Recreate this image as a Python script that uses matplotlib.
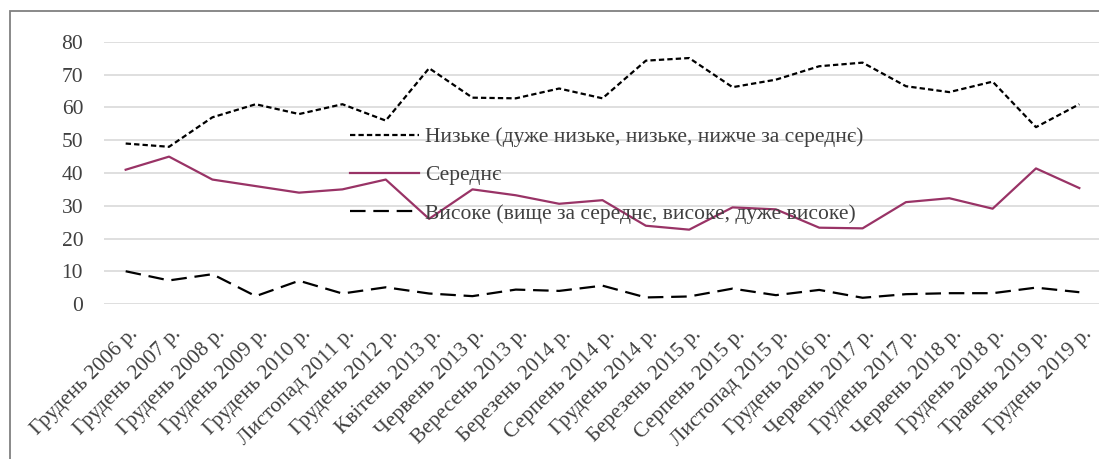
import matplotlib
matplotlib.use('Agg')
import matplotlib.pyplot as plt
import matplotlib.transforms as mtransforms
from matplotlib.patches import Rectangle

# periods of the survey
periods = ['Грудень 2006 р.', 'Грудень 2007 р.', 'Грудень 2008 р.', 'Грудень 2009 р.',
           'Грудень 2010 р.', 'Листопад 2011 р.', 'Грудень 2012 р.', 'Квітень 2013 р.',
           'Червень 2013 р.', 'Вересень 2013 р.', 'Березень 2014 р.', 'Серпень 2014 р.',
           'Грудень 2014 р.', 'Березень 2015 р.', 'Серпень 2015 р.', 'Листопад 2015 р.',
           'Грудень 2016 р.', 'Червень 2017 р.', 'Грудень 2017 р.', 'Червень 2018 р.',
           'Грудень 2018 р.', 'Травень 2019 р.', 'Грудень 2019 р.']

low = [49, 48, 57, 61, 58, 61, 56, 72, 63, 62.8, 65.8, 62.8, 74.3, 75.1, 66.2,
       68.5, 72.6, 73.7, 66.5, 64.7, 67.9, 54, 61]
medium = [41, 45, 38, 36, 34, 35, 38, 26, 35, 33.2, 30.6, 31.7, 23.9, 22.7, 29.5,
          28.9, 23.3, 23.1, 31.1, 32.3, 29.1, 41.4, 35.4]
high = [10, 7.2, 9.1, 2.4, 7.1, 3.2, 5.1, 3.2, 2.4, 4.4, 4, 5.6, 2, 2.3, 4.7,
        2.7, 4.3, 1.9, 3, 3.3, 3.3, 5, 3.6]

labels = ['Низьке (дуже низьке, низьке, нижче за середнє)',
          'Середнє',
          'Високе (вище за середнє, високе, дуже високе)']

plt.rcParams['font.family'] = ['Liberation Serif', 'DejaVu Serif']
text_col = '#404040'

W, H = 1099, 459
fig = plt.figure(figsize=(W / 100, H / 100), dpi=100)

# chart border (only top and left visible in the crop)
fig.patches.append(Rectangle((10 / W, -0.1), 1.2, 1 - 11 / H + 0.1,
                             transform=fig.transFigure, fill=False,
                             edgecolor='#808080', lw=1.3))

ax = fig.add_axes([104 / W, 1 - 304 / H, 997 / W, 262 / H])
x = list(range(len(periods)))

ax.plot(x, low, color='black', lw=1.6, linestyle=(0, (2.4, 1.4)), label=labels[0])
ax.plot(x, medium, color='#993366', lw=1.6, label=labels[1])
ax.plot(x, high, color='black', lw=1.6, linestyle=(0, (7, 3.5)), label=labels[2])

ax.set_xlim(-0.5, len(periods) - 0.5)
ax.set_ylim(0, 80)
ax.set_yticks(range(0, 81, 10))
ax.yaxis.grid(True, color='#d9d9d9', lw=1.2)
ax.set_axisbelow(True)
for s in ax.spines.values():
    s.set_visible(False)

ax.tick_params(axis='y', length=0, pad=15, labelsize=15.5, labelcolor=text_col)
ax.tick_params(axis='x', length=0, pad=15, labelsize=15.5, labelcolor=text_col)
ax.set_xticks(x)
ax.set_xticklabels(periods, rotation=45, ha='right', va='top', rotation_mode='anchor')
offset = mtransforms.ScaledTranslation(3 / 100, 0, fig.dpi_scale_trans)
for lab in ax.get_xticklabels():
    lab.set_transform(lab.get_transform() + offset)

leg = fig.legend(loc='upper left', bbox_to_anchor=(350 / W, 1 - 127 / H),
                 frameon=False, fontsize=15.5, handlelength=3.2, handletextpad=0.3,
                 labelspacing=0.85, borderpad=0, borderaxespad=0)
for t in leg.get_texts():
    t.set_color(text_col)

fig.savefig('out.png', dpi=100)
